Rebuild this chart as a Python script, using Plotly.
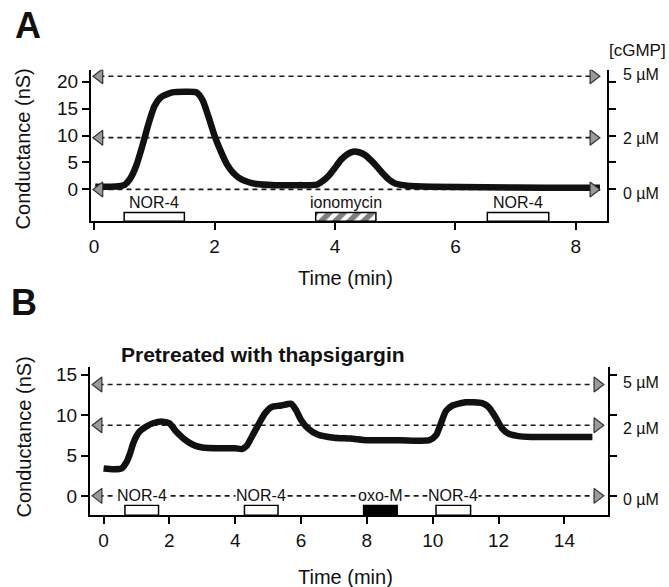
import plotly.graph_objects as go

# ---------------- Panel A data ----------------
timeA = [0.02, 0.2, 0.4, 0.5, 0.6, 0.7, 0.8, 0.9, 1.0, 1.1, 1.2, 1.3, 1.5, 1.7, 1.8, 1.9,
         2.0, 2.1, 2.2, 2.3, 2.4, 2.5, 2.7, 3.0, 3.4, 3.7, 3.8, 3.9, 4.0, 4.1, 4.2, 4.3,
         4.4, 4.5, 4.6, 4.7, 4.8, 4.9, 5.0, 5.2, 5.6, 6.5, 7.5, 8.4]
condA = [0.5, 0.5, 0.6, 0.8, 2.0, 4.4, 8.0, 12.0, 15.4, 17.0, 17.6, 18.0, 18.1, 18.0, 16.6, 13.5,
         10.0, 7.2, 4.8, 3.2, 2.2, 1.6, 1.0, 0.8, 0.8, 0.9, 1.6, 2.6, 4.0, 5.5, 6.5, 7.0,
         6.9, 6.4, 5.4, 4.2, 2.9, 1.8, 1.1, 0.7, 0.5, 0.4, 0.3, 0.3]
stimA_names = ["NOR-4", "ionomycin", "NOR-4"]
stimA_start = [0.5, 3.68, 6.53]
stimA_end = [1.5, 4.68, 7.55]
stimA_kind = ["open", "hatched", "open"]
cgmpA_levels = [21.0, 9.6, 0.0]
cgmp_labels = ["5 µM", "2 µM", "0 µM"]
xticksA = [0, 2, 4, 6, 8]
yticksA = [0, 5, 10, 15, 20]

# ---------------- Panel B data ----------------
timeB = [0.0, 0.3, 0.55, 0.7, 0.8, 0.9, 1.0, 1.1, 1.3, 1.5, 1.8, 2.0, 2.2, 2.4, 2.6, 2.8,
         3.0, 3.5, 4.0, 4.2, 4.35, 4.5, 4.7, 4.9, 5.1, 5.4, 5.7, 5.85, 6.0, 6.2, 6.5, 7.0,
         7.5, 8.0, 9.0, 9.9, 10.1, 10.25, 10.4, 10.6, 11.0, 11.5, 11.7, 11.9, 12.1, 12.3,
         12.6, 13.0, 14.0, 14.85]
condB = [3.4, 3.3, 3.4, 4.2, 5.2, 6.5, 7.4, 8.0, 8.6, 9.0, 9.2, 9.0, 8.0, 7.2, 6.6, 6.2,
         6.0, 5.9, 5.9, 5.8, 6.2, 7.3, 8.8, 10.2, 11.0, 11.2, 11.4, 10.6, 9.4, 8.4, 7.6, 7.2,
         7.1, 6.9, 6.9, 6.9, 7.5, 9.0, 10.5, 11.2, 11.6, 11.5, 11.0, 9.8, 8.4, 7.7,
         7.4, 7.3, 7.3, 7.3]
stimB_names = ["NOR-4", "NOR-4", "oxo-M", "NOR-4"]
stimB_start = [0.65, 4.28, 7.9, 10.1]
stimB_end = [1.67, 5.3, 8.92, 11.15]
stimB_kind = ["open", "open", "filled", "open"]
cgmpB_levels = [13.8, 8.75, 0.0]
xticksB = [0, 2, 4, 6, 8, 10, 12, 14]
yticksB = [0, 5, 10, 15]

W, H = 669, 587
FONT = "Liberation Sans, Arial, Helvetica, sans-serif"


def px(x):
    return x / W


def py(y):
    return 1 - y / H


fig = go.Figure()


def add_panel(xa, ya, t, c, names, starts, ends, kinds, levels, arrow_l, arrow_r,
              bar_base, bar_top):
    # dashed concentration reference lines
    for lv in levels:
        fig.add_trace(go.Scatter(x=[arrow_l, arrow_r], y=[lv, lv], mode="lines",
                                 line=dict(color="#1a1a1a", width=1.7, dash="5px,4px"),
                                 xaxis=xa, yaxis=ya, showlegend=False, hoverinfo="skip"))
    # stimulus bars
    for kind in ["open", "hatched", "filled"]:
        idx = [i for i, k in enumerate(kinds) if k == kind]
        if not idx:
            continue
        centers = [(starts[i] + ends[i]) / 2 for i in idx]
        widths = [ends[i] - starts[i] for i in idx]
        marker = dict(color="white", line=dict(color="black", width=1.5))
        if kind == "filled":
            marker = dict(color="black", line=dict(color="black", width=1.5))
        if kind == "hatched":
            marker = dict(color="white", line=dict(color="black", width=1.5),
                          pattern=dict(shape="/", fgcolor="black", bgcolor="white",
                                       size=10, solidity=0.55))
        fig.add_trace(go.Bar(x=centers, width=widths, y=[bar_top - bar_base] * len(idx),
                             base=bar_base, marker=marker, xaxis=xa, yaxis=ya,
                             showlegend=False, hoverinfo="skip"))
    # conductance trace
    fig.add_trace(go.Scatter(x=t, y=c, mode="lines",
                             line=dict(color="#111", width=6.5, shape="spline", smoothing=0.6),
                             xaxis=xa, yaxis=ya, showlegend=False))
    # arrow heads
    fig.add_trace(go.Scatter(x=[arrow_l] * len(levels), y=levels, mode="markers",
                             marker=dict(symbol="triangle-left", size=13, color="#9a9a9a",
                                         line=dict(color="#333", width=1.2)),
                             xaxis=xa, yaxis=ya, showlegend=False, hoverinfo="skip"))
    fig.add_trace(go.Scatter(x=[arrow_r] * len(levels), y=levels, mode="markers",
                             marker=dict(symbol="triangle-right", size=13, color="#9a9a9a",
                                         line=dict(color="#333", width=1.2)),
                             xaxis=xa, yaxis=ya, showlegend=False, hoverinfo="skip"))


add_panel("x", "y", timeA, condA, stimA_names, stimA_start, stimA_end, stimA_kind,
          cgmpA_levels, 0.09, 8.29, -5.9, -4.26)
add_panel("x2", "y2", timeB, condB, stimB_names, stimB_start, stimB_end, stimB_kind,
          cgmpB_levels, -0.15, 15.0, -2.4, -1.17)

axis_common = dict(showgrid=False, zeroline=False, showline=True, linecolor="black",
                   linewidth=1.5, ticks="outside", ticklen=7, tickwidth=1.5,
                   tickcolor="black", tickfont=dict(size=19, color="#111", family=FONT))

fig.update_layout(
    width=W, height=H, margin=dict(l=0, r=0, t=0, b=0),
    paper_bgcolor="white", plot_bgcolor="white", barmode="overlay",
    font=dict(family=FONT, color="#111"),
    xaxis=dict(domain=[px(89), px(607)], anchor="y", range=[-0.055, 8.52],
               tickvals=xticksA, **axis_common),
    yaxis=dict(domain=[py(220), py(68)], anchor="x", range=[-5.9, 22.2],
               tickvals=yticksA, mirror="ticks", **axis_common),
    xaxis2=dict(domain=[px(88), px(608)], anchor="y2", range=[-0.42, 15.33],
                tickvals=xticksB, **axis_common),
    yaxis2=dict(domain=[py(515), py(366)], anchor="x2", range=[-2.4, 16.0],
                tickvals=yticksB, mirror="ticks", **axis_common),
)

ann = []
# panel letters
ann.append(dict(text="<b>A</b>", x=px(11), y=py(24), xanchor="left", yanchor="middle",
                font=dict(size=36, family=FONT, color="#111")))
ann.append(dict(text="<b>B</b>", x=px(7), y=py(302), xanchor="left", yanchor="middle",
                font=dict(size=36, family=FONT, color="#111")))
# axis titles
for yc in [147, 436]:
    ann.append(dict(text="Conductance (nS)", x=px(22), y=py(yc), textangle=-90,
                    xanchor="center", yanchor="middle", font=dict(size=20, family=FONT)))
for yc in [277, 577]:
    ann.append(dict(text="Time (min)", x=px(345), y=py(yc), xanchor="center",
                    yanchor="middle", font=dict(size=20, family=FONT)))
# cGMP labels
ann.append(dict(text="[cGMP]", x=px(668), y=py(49), xanchor="right", yanchor="middle",
                font=dict(size=17, family=FONT)))
for lab, yc in zip(cgmp_labels, [73, 137, 192]):
    ann.append(dict(text=lab, x=px(621), y=py(yc), xanchor="left", yanchor="middle",
                    font=dict(size=16, family=FONT)))
for lab, yc in zip(cgmp_labels, [382, 428, 499]):
    ann.append(dict(text=lab, x=px(621), y=py(yc), xanchor="left", yanchor="middle",
                    font=dict(size=16, family=FONT)))
# panel B title
ann.append(dict(text="<b>Pretreated with thapsigargin</b>", x=px(117), y=py(354),
                xanchor="left", yanchor="middle", font=dict(size=21, family=FONT)))
# stimulus labels panel A
for name, s, e in zip(stimA_names, stimA_start, stimA_end):
    ann.append(dict(text=name, x=(s + e) / 2, y=-2.4, xref="x", yref="y",
                    xanchor="center", yanchor="middle", font=dict(size=16, family=FONT)))
# stimulus labels panel B (on the 0 µM dashed line)
for name, s, e in zip(stimB_names, stimB_start, stimB_end):
    ann.append(dict(text=name, x=(s + e) / 2, y=0, xref="x2", yref="y2",
                    xanchor="center", yanchor="middle", bgcolor="white", borderpad=0,
                    font=dict(size=16, family=FONT)))

for a in ann:
    a.setdefault("xref", "paper")
    a.setdefault("yref", "paper")
    a["showarrow"] = False
fig.update_layout(annotations=ann)

fig.write_html("out.html", config={"displayModeBar": False},
               post_script="document.body.style.margin='0';document.body.style.overflow='hidden';")
